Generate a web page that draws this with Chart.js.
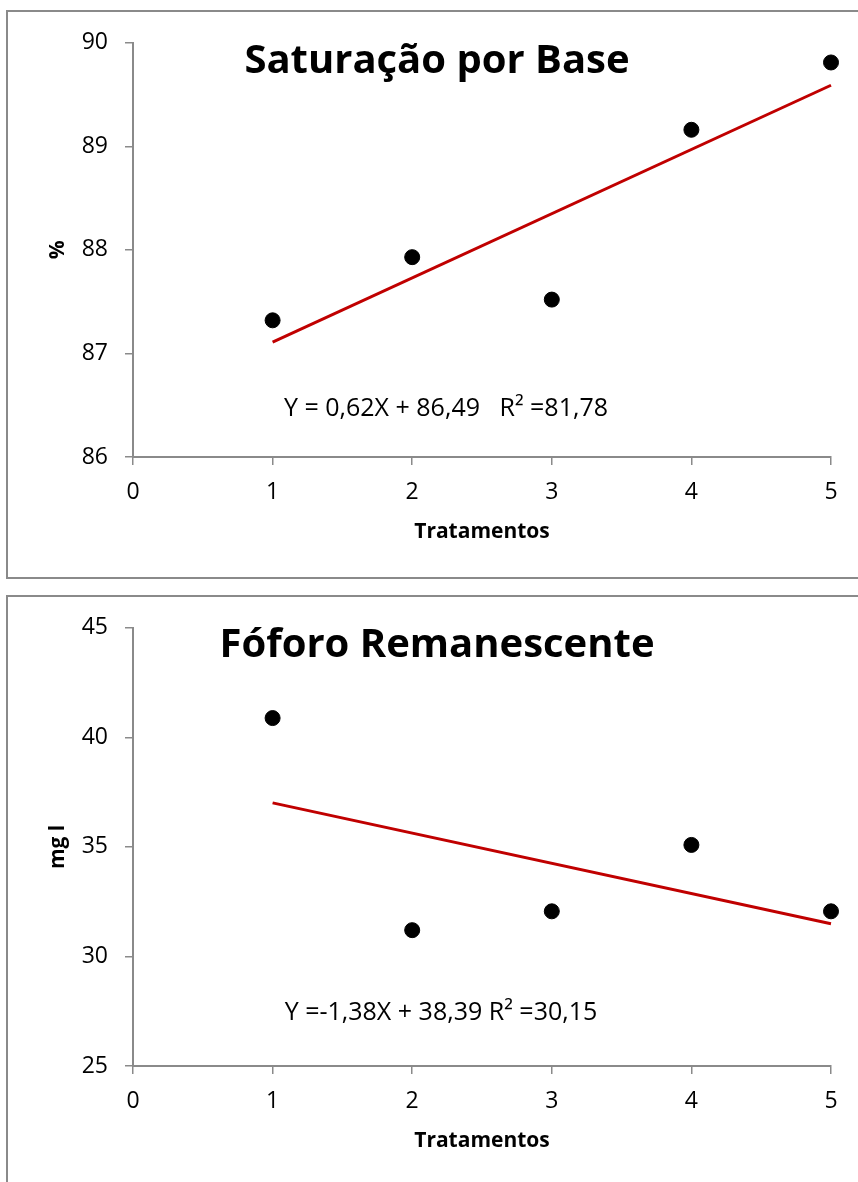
<!DOCTYPE html>
<html lang="pt">
<head>
<meta charset="utf-8">
<title>Saturação por Base / Fóforo Remanescente</title>
<script src="https://cdn.jsdelivr.net/npm/chart.js@4.4.1/dist/chart.umd.min.js"></script>
<style>
  html, body { margin: 0; padding: 0; background: #fff; overflow: hidden; width: 858px; height: 1182px; }
  .frame { position: absolute; left: 6px; width: 880px; border: 2px solid #8a8a8a; background: #fff; }
  #frame1 { top: 10px; height: 565px; }
  #frame2 { top: 595px; height: 600px; }
  .frame canvas { display: block; }
</style>
</head>
<body>
<div class="frame" id="frame1"><canvas id="chart1" width="870" height="565"></canvas></div>
<div class="frame" id="frame2"><canvas id="chart2" width="870" height="589"></canvas></div>
<script>
// treatments on the x axis
const treatments = [1, 2, 3, 4, 5];
const xTicks = [0, 1, 2, 3, 4, 5];

// observed means
const saturacao = [87.32, 87.93, 87.52, 89.16, 89.81];
const fosforo = [40.88, 31.20, 32.06, 35.09, 32.06];

// fitted line end points
const trendX = [1, 5];
const saturacaoTrend = [87.11, 89.59];
const fosforoTrend = [37.01, 31.49];

const saturacaoTicks = [86, 87, 88, 89, 90];
const fosforoTicks = [25, 30, 35, 40, 45];

const FONT = '"Open Sans", "Noto Sans", sans-serif';
const AXIS_GRAY = '#8a8a8a';

// title and regression equation drawn inside the plot
const textLabels = {
    id: 'textLabels',
    afterDraw(chart, args, opts) {
        const ctx = chart.ctx;
        ctx.save();
        ctx.fillStyle = '#000';
        ctx.textAlign = 'center';
        ctx.textBaseline = 'middle';
        ctx.font = 'bold 40px ' + FONT;
        ctx.fillText(opts.title, opts.titleX, opts.titleY);
        ctx.font = '25px ' + FONT;
        ctx.fillText(opts.equation, opts.eqX, opts.eqY);
        ctx.restore();
    }
};

function makeChart(canvasId, values, trend, yTicks, yTitle, top, labels) {
    const ctx = document.getElementById(canvasId);
    return new Chart(ctx, {
        type: 'scatter',
        data: {
            datasets: [
                {
                    data: treatments.map((x, i) => ({ x: x, y: values[i] })),
                    backgroundColor: '#000',
                    borderColor: '#000',
                    pointRadius: 7.5,
                    clip: false,
                    order: 1
                },
                {
                    type: 'line',
                    data: trendX.map((x, i) => ({ x: x, y: trend[i] })),
                    borderColor: '#C00000',
                    borderWidth: 3,
                    pointRadius: 0,
                    fill: false,
                    clip: false,
                    order: 2
                }
            ]
        },
        options: {
            responsive: false,
            animation: false,
            layout: {
                padding: { top: top, left: 0, right: 47, bottom: 0 }
            },
            plugins: {
                legend: { display: false },
                tooltip: { enabled: false },
                textLabels: labels
            },
            scales: {
                x: {
                    type: 'linear',
                    min: 0,
                    max: 5,
                    afterBuildTicks: (scale) => {
                        scale.ticks = xTicks.map(v => ({ value: v }));
                    },
                    afterFit: (scale) => { scale.height = 120; },
                    border: { display: true, color: AXIS_GRAY, width: 2 },
                    grid: {
                        drawOnChartArea: false,
                        drawTicks: true,
                        tickLength: 8,
                        tickColor: AXIS_GRAY,
                        lineWidth: 1.5
                    },
                    ticks: {
                        color: '#000',
                        padding: 14,
                        font: { family: FONT, size: 23 }
                    },
                    title: {
                        display: true,
                        text: 'Tratamentos',
                        color: '#000',
                        padding: { top: 0, bottom: 32 },
                        font: { family: FONT, size: 21, weight: 'bold' }
                    }
                },
                y: {
                    type: 'linear',
                    min: yTicks[0],
                    max: yTicks[yTicks.length - 1],
                    afterBuildTicks: (scale) => {
                        scale.ticks = yTicks.map(v => ({ value: v }));
                    },
                    afterFit: (scale) => { scale.width = 125; },
                    border: { display: true, color: AXIS_GRAY, width: 2 },
                    grid: {
                        drawOnChartArea: false,
                        drawTicks: true,
                        tickLength: 8,
                        tickColor: AXIS_GRAY,
                        lineWidth: 1.5
                    },
                    ticks: {
                        color: '#000',
                        padding: 17,
                        font: { family: FONT, size: 23 }
                    },
                    title: {
                        display: true,
                        text: yTitle,
                        color: '#000',
                        padding: { top: 37, bottom: 0 },
                        font: { family: FONT, size: 21, weight: 'bold' }
                    }
                }
            }
        },
        plugins: [textLabels]
    });
}

makeChart('chart1', saturacao, saturacaoTrend, saturacaoTicks, '%', 29, {
    title: 'Saturação por Base',
    titleX: 429, titleY: 50,
    equation: 'Y = 0,62X + 86,49   R² =81,78',
    eqX: 438, eqY: 397
});

makeChart('chart2', fosforo, fosforoTrend, fosforoTicks, 'mg l', 27, {
    title: 'Fóforo Remanescente',
    titleX: 429, titleY: 49,
    equation: 'Y =-1,38X + 38,39 R² =30,15',
    eqX: 433, eqY: 416
});
</script>
</body>
</html>
